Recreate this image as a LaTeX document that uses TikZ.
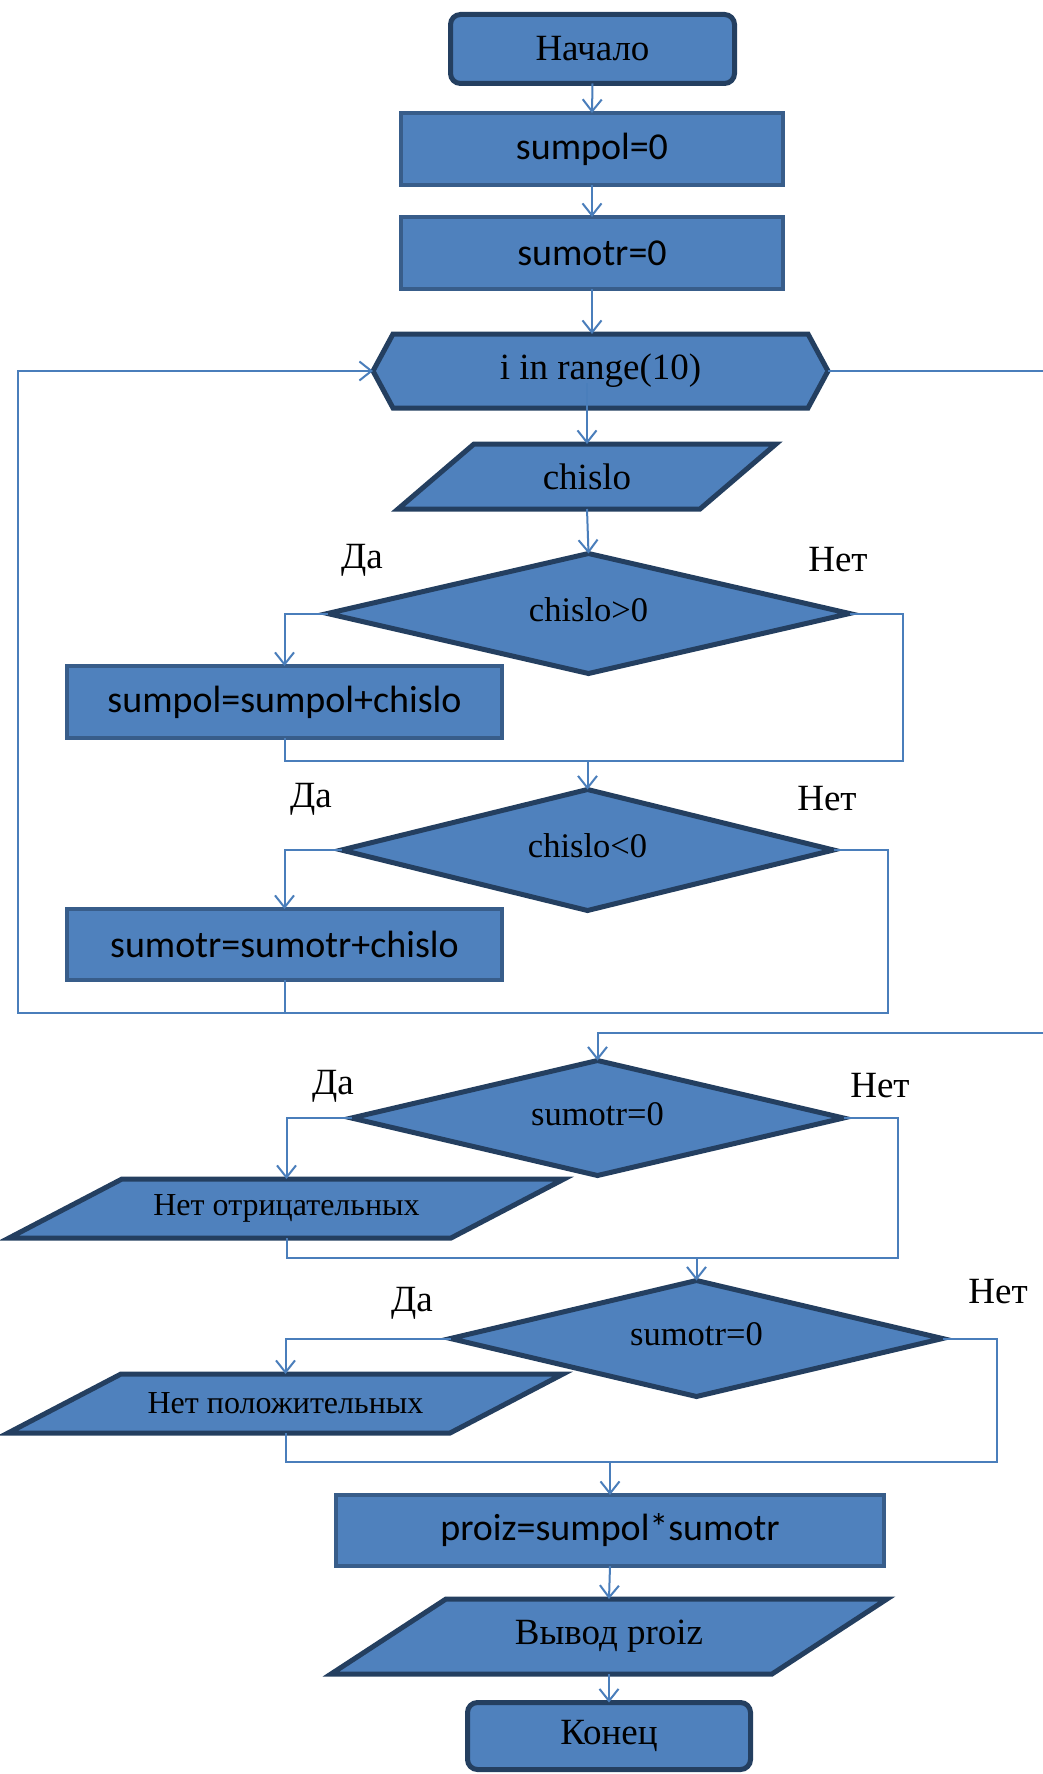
\documentclass[tikz,border=0pt]{standalone}
\usepackage{fontspec}
\setmainfont{Liberation Serif}
\newfontfamily\procfont{Carlito}
\usetikzlibrary{arrows.meta,shapes.geometric,calc,backgrounds}

\definecolor{boxfill}{HTML}{4F81BD}
\definecolor{boxedge}{HTML}{243F60}
\definecolor{procedge}{HTML}{385D8A}
\definecolor{linkblue}{HTML}{4A7EBB}

% condition text sits a little above the middle of its diamond
\newcommand\condtext[1]{\raisebox{4pt}[\height][\depth]{#1}}

\begin{document}
\begin{tikzpicture}[x=1pt,y=-1pt,
  every node/.style={inner sep=0pt, outer sep=0pt, text=black},
  term/.style={rectangle, rounded corners=10pt, fill=boxfill, draw=boxedge, line width=5pt,
    font=\fontsize{37}{40}\selectfont},
  proc/.style={rectangle, fill=boxfill, draw=procedge, line width=4pt,
    font=\procfont\fontsize{38}{42}\selectfont},
  decide/.style={diamond, shape aspect=4, fill=boxfill, draw=boxedge, line width=5pt,
    font=\fontsize{34.5}{38}\selectfont},
  textonly/.style={rectangle, font=\fontsize{37}{40}\selectfont},
  smalltext/.style={textonly, font=\fontsize{32}{36}\selectfont},
  shapeline/.style={fill=boxfill, draw=boxedge, line width=5pt},
  conn/.style={draw=linkblue, line width=2pt},
  arr/.style={conn, -{Straight Barb[length=12pt,width=19pt]}},
  answer/.style={font=\fontsize{37}{40}\selectfont},
]
\useasboundingbox (0,0) rectangle (1043,1774);

% ---- blocks ----
\node[term, minimum width=284pt, minimum height=69pt] (start) at (592.5,49) {Начало};
\node[proc, minimum width=382pt, minimum height=72pt] (p1) at (592,149) {sumpol=0};
\node[proc, minimum width=382pt, minimum height=72pt] (p2) at (592,253) {sumotr=0};
\node[textonly, minimum width=455pt, minimum height=74pt] (hex) at (600.5,371) {i in range(10)};
\node[textonly, minimum width=378pt, minimum height=65pt] (in1) at (587,476.5) {chislo};
\node[decide, minimum width=522pt, minimum height=120pt] (d1) at (588.5,613.5) {\condtext{chislo>0}};
\node[proc, minimum width=435pt, minimum height=72pt] (b1) at (284.5,702) {sumpol=sumpol+chislo};
\node[decide, minimum width=492pt, minimum height=121pt] (d2) at (587.5,850) {\condtext{chislo<0}};
\node[proc, minimum width=435pt, minimum height=71pt] (b2) at (284.5,944.5) {sumotr=sumotr+chislo};
\node[decide, minimum width=492pt, minimum height=115pt] (d3) at (597.5,1118) {\condtext{sumotr=0}};
\node[smalltext, minimum width=555pt, minimum height=59pt] (out1) at (286.5,1208.5) {Нет отрицательных};
\node[decide, minimum width=492pt, minimum height=116pt] (d4) at (696.5,1338.5) {\condtext{sumotr=0}};
\node[smalltext, minimum width=555pt, minimum height=59pt] (out2) at (285.5,1403.5) {Нет положительных};
\node[proc, minimum width=548pt, minimum height=71pt] (b3) at (610,1530.5) {proiz=sumpol*sumotr};
\node[textonly, minimum width=556pt, minimum height=75pt] (out3) at (609,1636.5) {Вывод proiz};
\node[term, minimum width=283pt, minimum height=67pt] (stop) at (609,1736) {Конец};

% ---- outlines of the loop header and the input/output blocks ----
\begin{scope}[on background layer]
  \fill[white] (0,0) rectangle (1043,1774);
  \path[shapeline] (hex.west) -- ($(hex.north west)+(20,0)$) -- ($(hex.north east)+(-20,0)$)
    -- (hex.east) -- ($(hex.south east)+(-20,0)$) -- ($(hex.south west)+(20,0)$) -- cycle;
  \path[shapeline] (in1.south west) -- ($(in1.south east)+(-76,0)$) -- (in1.north east)
    -- ($(in1.north west)+(76,0)$) -- cycle;
  \path[shapeline] (out1.south west) -- ($(out1.south east)+(-113,0)$) -- (out1.north east)
    -- ($(out1.north west)+(113,0)$) -- cycle;
  \path[shapeline] (out2.south west) -- ($(out2.south east)+(-113,0)$) -- (out2.north east)
    -- ($(out2.north west)+(113,0)$) -- cycle;
  \path[shapeline] (out3.south west) -- ($(out3.south east)+(-115,0)$) -- (out3.north east)
    -- ($(out3.north west)+(115,0)$) -- cycle;
\end{scope}

% ---- branch labels ----
\node[answer] (yes1) at (362,560) {Да};
\node[answer] (no1) at (838,560) {Нет};
\node[answer] (yes2) at (311,799) {Да};
\node[answer] (no2) at (827,799) {Нет};
\node[answer] (yes3) at (333,1086) {Да};
\node[answer] (no3) at (880,1086) {Нет};
\node[answer] (yes4) at (412,1303) {Да};
\node[answer] (no4) at (998,1292) {Нет};

% ---- turning points of the connectors ----
\coordinate (r1) at (903,613.5);
\coordinate (m1) at (587.5,761);
\coordinate (r2) at (888,850);
\coordinate (lp) at (18,1013);
\coordinate (ex1) at (1050,371);
\coordinate (ex2) at (1050,1033);
\coordinate (r3) at (898,1118);
\coordinate (m3) at (696.5,1258);
\coordinate (r4) at (997,1338.5);
\coordinate (m4) at (610,1462);

% ---- connectors ----
\draw[arr] (start.south) -- (p1.north);
\draw[arr] (p1.south) -- (p2.north);
\draw[arr] (p2.south) -- (p2.south |- hex.north);
\draw[arr] (hex.center -| in1.north) ++(0,12) -- (in1.north);
\draw[arr] (in1.south) -- (d1.north);

\draw[arr] (d1.west) -| (b1.north);
\draw[conn] (b1.south) |- (m1);
\draw[conn] (d1.east) -- (r1) |- (m1);
\draw[arr] (m1) -- (d2.north);

\draw[arr] (d2.west) -| (b2.north);
\draw[conn] (b2.south) -- (b2.south |- lp);
\draw[arr] (d2.east) -- (r2) |- (lp) |- (hex.west);

\draw[conn] (hex.east) -- (ex1);
\draw[arr] (ex2) -| (d3.north);

\draw[arr] (d3.west) -| (out1.north);
\draw[conn] (out1.south) |- (m3);
\draw[conn] (d3.east) -- (r3) |- (m3);
\draw[arr] (m3) -- (d4.north);

\draw[arr] (d4.west) -| (out2.north);
\draw[conn] (out2.south) |- (m4);
\draw[conn] (d4.east) -- (r4) |- (m4);
\draw[arr] (m4) -- (b3.north);

\draw[arr] (b3.south) -- (out3.north);
\draw[arr] (out3.south) -- (stop.north);
\end{tikzpicture}
\end{document}
